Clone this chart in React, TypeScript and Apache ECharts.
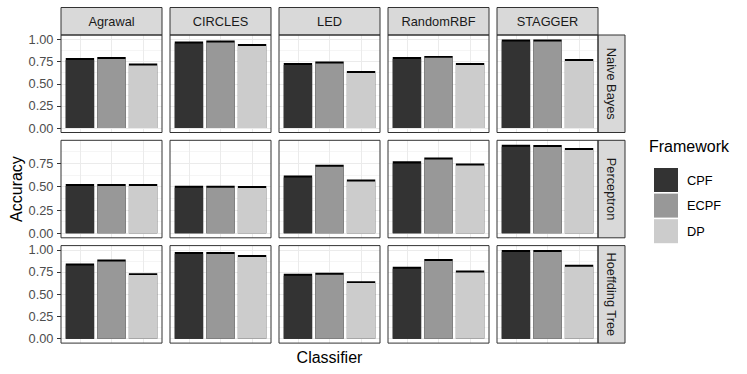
import React, { useEffect, useRef } from 'react';
import * as echarts from 'echarts';

// ---- data ----
const datasets = ['Agrawal', 'CIRCLES', 'LED', 'RandomRBF', 'STAGGER'];
const classifiers = ['Naive Bayes', 'Perceptron', 'Hoeffding Tree'];
const frameworks = ['CPF', 'ECPF', 'DP'];

const cpfNaiveBayes = [0.79, 0.976, 0.734, 0.802, 1.0];
const ecpfNaiveBayes = [0.802, 0.988, 0.75, 0.814, 0.998];
const dpNaiveBayes = [0.728, 0.949, 0.644, 0.734, 0.78];

const cpfPerceptron = [0.53, 0.51, 0.62, 0.772, 0.95];
const ecpfPerceptron = [0.53, 0.51, 0.735, 0.814, 0.948];
const dpPerceptron = [0.53, 0.508, 0.577, 0.75, 0.915];

const cpfHoeffding = [0.846, 0.974, 0.729, 0.808, 0.997];
const ecpfHoeffding = [0.891, 0.974, 0.741, 0.895, 0.997];
const dpHoeffding = [0.737, 0.94, 0.647, 0.767, 0.831];

// spread shown as black band at the top of each bar
const spreadBand = 0.022;

const majorTicks = [0, 0.25, 0.5, 0.75, 1.0];
const minorTicks = [0.125, 0.375, 0.625, 0.875];

// ---- style / layout ----
const FONT = '"Liberation Sans", Arial, Helvetica, sans-serif';
const fwColors = ['#333333', '#989898', '#CCCCCC'];
const COL_L0 = 61;
const PANEL_W = 101;
const COL_GAP = 8;
const ROW_T0 = 35;
const PANEL_H = 97.5;
const ROW_GAP = 7.8;
const STRIP_TOP_Y = 7.5;
const STRIP_H = 27.5;
const STRIP_R_W = 27;

export default function App() {
  const ref = useRef<HTMLDivElement>(null);

  useEffect(() => {
    if (!ref.current) return;
    const chart = echarts.init(ref.current, null, { renderer: 'svg' });

    const rows = [
      [cpfNaiveBayes, ecpfNaiveBayes, dpNaiveBayes],
      [cpfPerceptron, ecpfPerceptron, dpPerceptron],
      [cpfHoeffding, ecpfHoeffding, dpHoeffding],
    ];

    const grids: any[] = [];
    const xAxes: any[] = [];
    const yAxes: any[] = [];
    const series: any[] = [];
    const graphics: any[] = [];

    rows.forEach((rowVals, r) => {
      const M = Math.max(...rowVals.map((a) => Math.max(...a)));
      const yMin = -0.05 * M;
      const yMax = 1.05 * M;
      const majors = majorTicks.filter((t) => t <= yMax);
      const minors = minorTicks.filter((t) => t <= yMax);
      const top = ROW_T0 + r * (PANEL_H + ROW_GAP);

      datasets.forEach((ds, c) => {
        const p = r * datasets.length + c;
        const left = COL_L0 + c * (PANEL_W + COL_GAP);
        grids.push({ left, top, width: PANEL_W, height: PANEL_H, show: false });
        xAxes.push({
          type: 'value',
          gridIndex: p,
          min: 0.4,
          max: 3.6,
          axisLine: { show: false },
          axisLabel: { show: false, customValues: [1, 2, 3] },
          axisTick: { show: false, customValues: [1, 2, 3] },
          splitLine: { show: true, lineStyle: { color: '#EBEBEB', width: 1 } },
        });
        yAxes.push({
          type: 'value',
          gridIndex: p,
          min: yMin,
          max: yMax,
          axisLine: { show: false },
          axisTick: {
            show: c === 0,
            customValues: majors,
            length: 4,
            lineStyle: { color: '#333333', width: 1 },
          },
          axisLabel: {
            show: c === 0,
            customValues: majors,
            formatter: (v: number) => v.toFixed(2),
            margin: 7.5,
            color: '#4D4D4D',
            fontSize: 12.8,
            fontFamily: FONT,
          },
          splitLine: { show: true, lineStyle: { color: '#EBEBEB', width: 1 } },
        });
        yAxes.push({
          type: 'value',
          gridIndex: p,
          min: yMin,
          max: yMax,
          axisLine: { show: false },
          axisTick: { show: false, customValues: minors },
          axisLabel: { show: false, customValues: minors },
          splitLine: { show: true, lineStyle: { color: '#EBEBEB', width: 0.5 } },
        });

        frameworks.forEach((fw, f) => {
          const v = rowVals[f][c];
          // black band: full height, drawn first
          series.push({
            type: 'bar',
            name: fw + ' spread',
            xAxisIndex: p,
            yAxisIndex: p * 2,
            barWidth: 28.4,
            barGap: '-100%',
            itemStyle: { color: '#000000' },
            data: [[f + 1, v]],
            silent: true,
          });
          // coloured bar below the band, drawn on top
          series.push({
            type: 'bar',
            name: fw,
            xAxisIndex: p,
            yAxisIndex: p * 2,
            barWidth: 28.4,
            barGap: '-100%',
            itemStyle: { color: fwColors[f] },
            data: [[f + 1, v - spreadBand]],
            silent: true,
          });
        });

        // panel border
        graphics.push({
          type: 'rect',
          z: 50,
          shape: { x: left, y: top, width: PANEL_W, height: PANEL_H },
          style: { fill: 'none', stroke: '#333333', lineWidth: 1 },
          silent: true,
        });
      });

      // right strip
      const sx = COL_L0 + datasets.length * (PANEL_W + COL_GAP) - COL_GAP;
      graphics.push({
        type: 'rect',
        z: 49,
        shape: { x: sx, y: top, width: STRIP_R_W, height: PANEL_H },
        style: { fill: '#D9D9D9', stroke: '#333333', lineWidth: 1 },
        silent: true,
      });
      graphics.push({
        type: 'text',
        z: 51,
        x: sx + STRIP_R_W / 2,
        y: top + PANEL_H / 2,
        rotation: -Math.PI / 2,
        style: {
          text: classifiers[r],
          fill: '#1A1A1A',
          fontSize: 12.8,
          fontFamily: FONT,
          align: 'center',
          verticalAlign: 'middle',
          textAlign: 'center',
          textVerticalAlign: 'middle',
        },
        silent: true,
      });
    });

    // top strips
    datasets.forEach((ds, c) => {
      const left = COL_L0 + c * (PANEL_W + COL_GAP);
      graphics.push({
        type: 'rect',
        z: 49,
        shape: { x: left, y: STRIP_TOP_Y, width: PANEL_W, height: STRIP_H },
        style: { fill: '#D9D9D9', stroke: '#333333', lineWidth: 1 },
        silent: true,
      });
      graphics.push({
        type: 'text',
        z: 51,
        x: left + PANEL_W / 2,
        y: STRIP_TOP_Y + STRIP_H / 2,
        style: {
          text: ds,
          fill: '#1A1A1A',
          fontSize: 12.8,
          fontFamily: FONT,
          align: 'center',
          verticalAlign: 'middle',
          textAlign: 'center',
          textVerticalAlign: 'middle',
        },
        silent: true,
      });
    });

    const panelsRight = COL_L0 + datasets.length * (PANEL_W + COL_GAP) - COL_GAP;
    const panelsBottom = ROW_T0 + 3 * PANEL_H + 2 * ROW_GAP;

    // axis titles
    graphics.push({
      type: 'text',
      x: 16,
      y: (ROW_T0 + panelsBottom) / 2,
      rotation: Math.PI / 2,
      style: {
        text: 'Accuracy',
        fill: '#000000',
        fontSize: 16,
        fontFamily: FONT,
        align: 'center',
        verticalAlign: 'middle',
        textAlign: 'center',
        textVerticalAlign: 'middle',
      },
      silent: true,
    });
    graphics.push({
      type: 'text',
      x: (COL_L0 + panelsRight) / 2,
      y: 357,
      style: {
        text: 'Classifier',
        fill: '#000000',
        fontSize: 16,
        fontFamily: FONT,
        align: 'center',
        verticalAlign: 'middle',
        textAlign: 'center',
        textVerticalAlign: 'middle',
      },
      silent: true,
    });
    // legend title
    graphics.push({
      type: 'text',
      x: 649,
      y: 146.5,
      style: {
        text: 'Framework',
        fill: '#000000',
        fontSize: 16,
        fontFamily: FONT,
        align: 'left',
        verticalAlign: 'middle',
        textAlign: 'left',
        textVerticalAlign: 'middle',
      },
      silent: true,
    });

    chart.setOption({
      animation: false,
      backgroundColor: '#FFFFFF',
      grid: grids,
      xAxis: xAxes,
      yAxis: yAxes,
      series,
      legend: {
        orient: 'vertical',
        left: 649,
        top: 163,
        itemWidth: 24,
        itemHeight: 24,
        itemGap: 1.6,
        icon: 'rect',
        selectedMode: false,
        data: frameworks,
        textStyle: { fontSize: 12.8, color: '#000000', fontFamily: FONT, padding: [0, 0, 0, 4] },
      },
      graphic: graphics,
    });

    return () => {
      chart.dispose();
    };
  }, []);

  return (
    <div
      ref={ref}
      style={{ position: 'absolute', left: 0, top: 0, width: 747, height: 374 }}
    />
  );
}
